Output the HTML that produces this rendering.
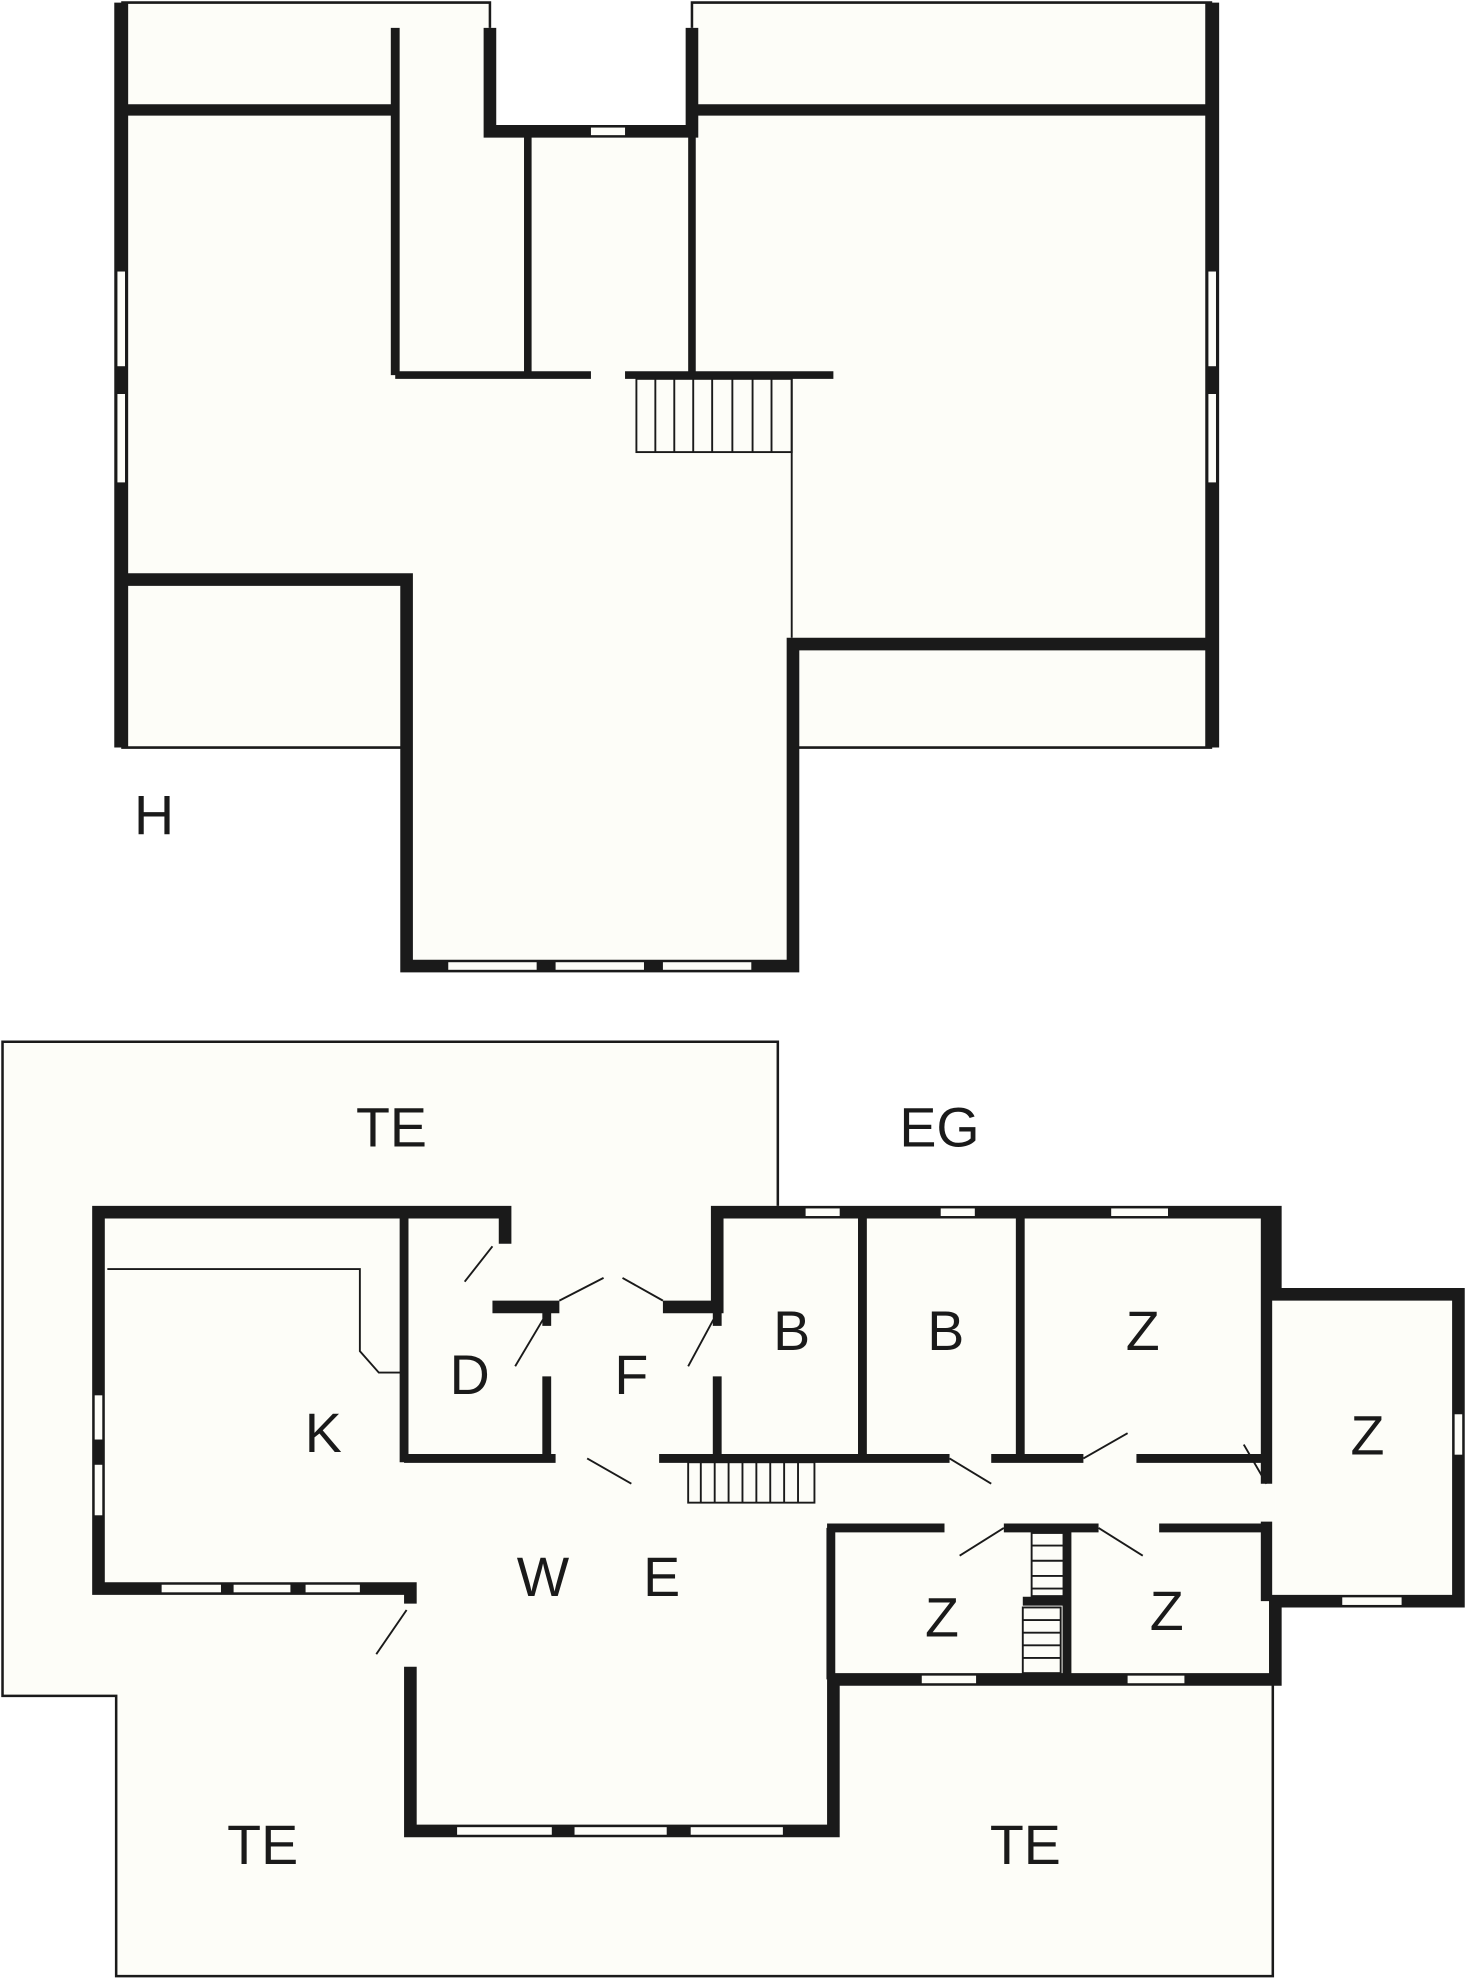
<!DOCTYPE html>
<html><head><meta charset="utf-8"><style>
html,body{margin:0;padding:0;background:#fff;}
svg{display:block;}
text{font-family:"Liberation Sans",sans-serif;font-size:44px;fill:#1a1a1a;text-anchor:middle;}
</style></head><body>
<svg width="1466" height="1980" viewBox="0 0 1161 1568" xmlns="http://www.w3.org/2000/svg">
<rect width="1161" height="1568" fill="#fff"/>
<g fill="#fdfdf8" stroke="none">
<!-- upper fill -->
<polygon points="96,2 388,2 388,104 548,104 548,2 960,2 960,592 628,592 628,765 318,765 318,592 96,592"/>
<!-- lower terrace fill -->
<polygon points="2,825 616,825 616,960 1010,960 1010,1333 1008,1333 1008,1565 92,1565 92,1343 2,1343"/>
<polygon points="1010,1025 1155,1025 1155,1268 1010,1268"/>
</g>
<g stroke="#1a1a1a" fill="none">
<!-- upper thin lines -->
<polyline stroke-width="2" points="96,2 388,2 388,22"/>
<polyline stroke-width="2" points="548,22 548,2 960,2"/>
<line stroke-width="2" x1="96" y1="592" x2="318" y2="592"/>
<line stroke-width="2" x1="628" y1="592" x2="960" y2="592"/>
<line stroke-width="1.5" x1="627" y1="297" x2="627" y2="505"/>
<!-- upper thick walls -->
<line stroke-width="11" x1="96" y1="2" x2="96" y2="592"/>
<line stroke-width="11" x1="960" y1="2" x2="960" y2="592"/>
<line stroke-width="9" x1="96" y1="87" x2="310" y2="87"/>
<line stroke-width="9" x1="548" y1="87" x2="960" y2="87"/>
<polyline stroke-width="10" points="388,22 388,104 548,104 548,22"/>
<line stroke-width="7" x1="313" y1="22" x2="313" y2="297"/>
<line stroke-width="6" x1="418" y1="108" x2="418" y2="297"/>
<line stroke-width="6" x1="548" y1="104" x2="548" y2="297"/>
<line stroke-width="6" x1="313" y1="297" x2="468" y2="297"/>
<line stroke-width="6" x1="495" y1="297" x2="660" y2="297"/>
<polyline stroke-width="10" points="96,459 322,459 322,765 628,765 628,510 960,510"/>
<!-- upper stairs -->
<g stroke-width="1.5">
<rect x="504" y="300" width="123" height="58"/>
<line x1="519" y1="300" x2="519" y2="358"/><line x1="534" y1="300" x2="534" y2="358"/>
<line x1="549" y1="300" x2="549" y2="358"/><line x1="564" y1="300" x2="564" y2="358"/>
<line x1="580" y1="300" x2="580" y2="358"/><line x1="596" y1="300" x2="596" y2="358"/>
<line x1="611" y1="300" x2="611" y2="358"/>
</g>

<!-- lower terrace thin -->
<polyline stroke-width="2" points="616,955 616,825 2,825 2,1343 92,1343 92,1565 1008,1565 1008,1333"/>
<!-- lower walls -->
<polyline stroke-width="10" points="400,985 400,960 78,960 78,1258 325,1258 325,1270"/>
<polyline stroke-width="10" points="325,1320 325,1450 660,1450 660,1330 1010,1330 1010,1268 1155,1268 1155,1025 1010,1025 1010,960 568,960 568,1035 525,1035"/>
<line stroke-width="10" x1="390" y1="1035" x2="443" y2="1035"/>
<line stroke-width="9" x1="1003" y1="965" x2="1003" y2="1175"/>
<line stroke-width="9" x1="1003" y1="1205" x2="1003" y2="1268"/>
<polyline stroke-width="1.5" points="85,1005 285,1005 285,1070 300,1087 318,1087"/>
<line stroke-width="7" x1="320" y1="965" x2="320" y2="1158"/>
<line stroke-width="7" x1="320" y1="1155" x2="440" y2="1155"/>
<line stroke-width="7" x1="433" y1="1035" x2="433" y2="1050"/>
<line stroke-width="7" x1="433" y1="1090" x2="433" y2="1155"/>
<line stroke-width="7" x1="568" y1="1035" x2="568" y2="1050"/>
<line stroke-width="7" x1="568" y1="1090" x2="568" y2="1155"/>
<line stroke-width="7" x1="522" y1="1155" x2="752" y2="1155"/>
<line stroke-width="7" x1="785" y1="1155" x2="858" y2="1155"/>
<line stroke-width="7" x1="900" y1="1155" x2="1003" y2="1155"/>
<line stroke-width="7" x1="683" y1="965" x2="683" y2="1155"/>
<line stroke-width="7" x1="808" y1="965" x2="808" y2="1155"/>
<line stroke-width="7" x1="655" y1="1210" x2="748" y2="1210"/>
<line stroke-width="7" x1="658" y1="1210" x2="658" y2="1330"/>
<line stroke-width="7" x1="795" y1="1210" x2="870" y2="1210"/>
<line stroke-width="7" x1="918" y1="1210" x2="1003" y2="1210"/>
<line stroke-width="7" x1="845" y1="1210" x2="845" y2="1330"/>
<line stroke-width="7" x1="810" y1="1268" x2="847" y2="1268"/>
<!-- doors -->
<g stroke-width="1.5">
<line x1="390" y1="987" x2="368" y2="1015"/>
<line x1="430" y1="1045" x2="408" y2="1082"/>
<line x1="443" y1="1030" x2="478" y2="1012"/>
<line x1="525" y1="1030" x2="493" y2="1012"/>
<line x1="565" y1="1045" x2="545" y2="1082"/>
<line x1="465" y1="1155" x2="500" y2="1175"/>
<line x1="752" y1="1155" x2="785" y2="1175"/>
<line x1="858" y1="1155" x2="893" y2="1135"/>
<line x1="1003" y1="1175" x2="985" y2="1144"/>
<line x1="795" y1="1210" x2="760" y2="1232"/>
<line x1="870" y1="1210" x2="905" y2="1232"/>
<line x1="322" y1="1275" x2="298" y2="1310"/>
</g>
<!-- stairs lower -->
<g stroke-width="1.5">
<rect x="545" y="1158" width="100" height="32"/>
<line x1="555" y1="1158" x2="555" y2="1190"/><line x1="566" y1="1158" x2="566" y2="1190"/>
<line x1="577" y1="1158" x2="577" y2="1190"/><line x1="588" y1="1158" x2="588" y2="1190"/>
<line x1="599" y1="1158" x2="599" y2="1190"/><line x1="610" y1="1158" x2="610" y2="1190"/>
<line x1="621" y1="1158" x2="621" y2="1190"/><line x1="632" y1="1158" x2="632" y2="1190"/>
<rect x="817" y="1214" width="28" height="50"/>
<line x1="817" y1="1224" x2="845" y2="1224"/><line x1="817" y1="1236" x2="845" y2="1236"/>
<line x1="817" y1="1248" x2="845" y2="1248"/><line x1="817" y1="1258" x2="845" y2="1258"/>
<rect x="810" y="1273" width="30" height="52"/>
<line x1="810" y1="1283" x2="840" y2="1283"/><line x1="810" y1="1293" x2="840" y2="1293"/>
<line x1="810" y1="1303" x2="840" y2="1303"/><line x1="810" y1="1313" x2="840" y2="1313"/>
</g>
</g>
<!-- windows -->
<g fill="#fdfdf8">
<rect x="93" y="215" width="6" height="75"/><rect x="93" y="312" width="6" height="70"/>
<rect x="957" y="215" width="6" height="75"/><rect x="957" y="312" width="6" height="70"/>
<rect x="468" y="101" width="27" height="6"/>
<rect x="355" y="762" width="70" height="6"/><rect x="440" y="762" width="70" height="6"/><rect x="525" y="762" width="70" height="6"/>
<rect x="638" y="957" width="27" height="6"/><rect x="745" y="957" width="27" height="6"/><rect x="880" y="957" width="45" height="6"/>
<rect x="75" y="1105" width="6" height="35"/><rect x="75" y="1160" width="6" height="40"/>
<rect x="128" y="1255" width="47" height="6"/><rect x="185" y="1255" width="45" height="6"/><rect x="242" y="1255" width="43" height="6"/>
<rect x="362" y="1447" width="75" height="6"/><rect x="455" y="1447" width="73" height="6"/><rect x="547" y="1447" width="73" height="6"/>
<rect x="730" y="1327" width="43" height="6"/><rect x="893" y="1327" width="45" height="6"/>
<rect x="1152" y="1120" width="6" height="32"/><rect x="1063" y="1265" width="47" height="6"/>
</g>
<text x="122" y="661">H</text>
<text x="310" y="908">TE</text>
<text x="744" y="908">EG</text>
<text x="627" y="1069">B</text>
<text x="749" y="1069">B</text>
<text x="905" y="1069">Z</text>
<text x="372" y="1104">D</text>
<text x="500" y="1104">F</text>
<text x="256" y="1150">K</text>
<text x="1083" y="1152">Z</text>
<text x="430" y="1264">W</text>
<text x="524" y="1264">E</text>
<text x="746" y="1296">Z</text>
<text x="924" y="1291">Z</text>
<text x="208" y="1476">TE</text>
<text x="812" y="1476">TE</text>
</svg>
</body></html>
